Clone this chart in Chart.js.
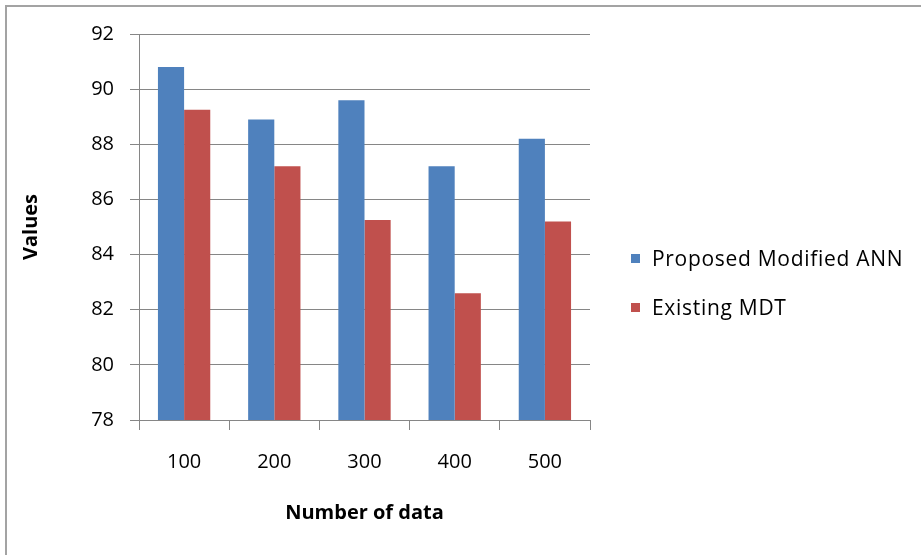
<!DOCTYPE html>
<html>
<head>
<meta charset="utf-8">
<script src="https://cdn.jsdelivr.net/npm/chart.js@4.4.1/dist/chart.umd.min.js"></script>
<style>
  html, body { margin: 0; padding: 0; background: #ffffff; }
  #wrap { position: relative; width: 921px; height: 555px; overflow: hidden; background: #ffffff; }
  #frame { position: absolute; left: 5px; top: 5px; width: 960px; height: 600px;
           border-left: 2px solid #a3a3a3; border-top: 2px solid #a3a3a3; }
  #chart { position: absolute; left: 0; top: 0; }
  #legend { position: absolute; left: 631px; top: 244px; font-family: "Open Sans", Lato, sans-serif;
            font-size: 21px; letter-spacing: 0.7px; color: #000; }
  #legend .item { position: relative; height: 30px; line-height: 30px; white-space: nowrap; }
  #legend .item + .item { margin-top: 19px; }
  #legend .swatch { position: absolute; left: 0; top: 10px; width: 9px; height: 9px; }
  #legend .text { position: absolute; left: 21px; top: -1px; }
</style>
</head>
<body>
<div id="wrap">
  <div id="frame"></div>
  <canvas id="chart" width="921" height="555"></canvas>
  <div id="legend"></div>
</div>
<script>
// Categories, series values and axis settings
const categories = ['100', '200', '300', '400', '500'];
const proposedModifiedAnn = [90.8, 88.9, 89.6, 87.2, 88.2];
const existingMdt = [89.25, 87.2, 85.25, 82.6, 85.2];
const seriesNames = ['Proposed Modified ANN', 'Existing MDT'];
const seriesColors = ['#4F81BD', '#C0504D'];
const yMin = 78, yMax = 92, yStep = 2;
const xTitle = 'Number of data';
const yTitle = 'Values';

const FONT = '"Open Sans", Lato, sans-serif';
const AXIS_GREY = '#868686';

const chart = new Chart(document.getElementById('chart'), {
  type: 'bar',
  data: {
    labels: categories,
    datasets: [
      { label: seriesNames[0], data: proposedModifiedAnn, backgroundColor: seriesColors[0] },
      { label: seriesNames[1], data: existingMdt, backgroundColor: seriesColors[1] }
    ]
  },
  options: {
    responsive: false,
    animation: false,
    devicePixelRatio: 1,
    layout: { padding: { top: 34, right: 331, left: 0, bottom: 0 } },
    datasets: { bar: { categoryPercentage: 0.58, barPercentage: 1.0, borderWidth: 0 } },
    plugins: { legend: { display: false }, tooltip: { enabled: false } },
    scales: {
      x: {
        grid: { offset: true, drawOnChartArea: false, drawTicks: true, tickLength: 10, color: AXIS_GREY },
        border: { color: AXIS_GREY },
        ticks: { font: { family: FONT, size: 20 }, color: '#000', padding: 20, maxRotation: 0 },
        title: { display: true, text: xTitle, color: '#000',
                 font: { family: FONT, size: 20, weight: 'bold' }, padding: { top: 30, bottom: 30 } },
        afterFit(scale) { scale.height = 135; }
      },
      y: {
        min: yMin, max: yMax,
        grid: { color: AXIS_GREY, tickLength: 9 },
        border: { color: AXIS_GREY },
        ticks: { stepSize: yStep, font: { family: FONT, size: 20 }, color: '#000', padding: 16 },
        title: { display: true, text: yTitle, color: '#000',
                 font: { family: FONT, size: 20, weight: 'bold' }, padding: { top: 19, bottom: 19 } },
        afterFit(scale) { scale.width = 139; }
      }
    }
  }
});

// Legend built from the chart's own datasets
const legendEl = document.getElementById('legend');
chart.data.datasets.forEach(ds => {
  const item = document.createElement('div');
  item.className = 'item';
  const sw = document.createElement('span');
  sw.className = 'swatch';
  sw.style.background = ds.backgroundColor;
  const tx = document.createElement('span');
  tx.className = 'text';
  tx.textContent = ds.label;
  item.appendChild(sw);
  item.appendChild(tx);
  legendEl.appendChild(item);
});
</script>
</body>
</html>
